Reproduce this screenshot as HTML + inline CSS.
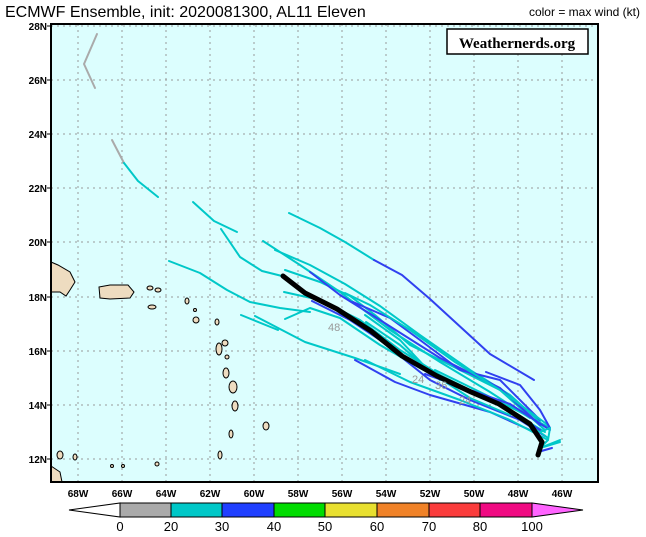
<!DOCTYPE html>
<html><head><meta charset="utf-8"><style>
body{margin:0;background:#fff;width:646px;height:532px;overflow:hidden;font-family:"Liberation Sans",sans-serif}
</style></head><body>
<svg width="646" height="532" xmlns="http://www.w3.org/2000/svg" font-family="Liberation Sans, sans-serif">
<text x="5" y="17" font-size="16" fill="#000">ECMWF Ensemble, init: 2020081300, AL11 Eleven</text>
<text x="640" y="16" font-size="12" fill="#000" text-anchor="end">color = max wind (kt)</text>
<rect x="51" y="24" width="547" height="458" fill="#dcfefe"/>
<g stroke="#999" stroke-width="1" stroke-dasharray="2,4">
<line x1="78" y1="24" x2="78" y2="482"/><line x1="122" y1="24" x2="122" y2="482"/><line x1="166" y1="24" x2="166" y2="482"/><line x1="210" y1="24" x2="210" y2="482"/><line x1="254" y1="24" x2="254" y2="482"/><line x1="298" y1="24" x2="298" y2="482"/><line x1="342" y1="24" x2="342" y2="482"/><line x1="386" y1="24" x2="386" y2="482"/><line x1="430" y1="24" x2="430" y2="482"/><line x1="474" y1="24" x2="474" y2="482"/><line x1="518" y1="24" x2="518" y2="482"/><line x1="562" y1="24" x2="562" y2="482"/>
<line x1="51" y1="26" x2="598" y2="26"/><line x1="51" y1="80" x2="598" y2="80"/><line x1="51" y1="134" x2="598" y2="134"/><line x1="51" y1="188" x2="598" y2="188"/><line x1="51" y1="242" x2="598" y2="242"/><line x1="51" y1="297" x2="598" y2="297"/><line x1="51" y1="351" x2="598" y2="351"/><line x1="51" y1="405" x2="598" y2="405"/><line x1="51" y1="459" x2="598" y2="459"/>
</g>
<g fill="#eedcc0" stroke="#000" stroke-width="1">
<path d="M51,262 L58,265 L70,272 L75,282 L70,290 L66,296 L60,292 L51,292 Z"/>
<path d="M99,287 L110,285 L128,285 L134,292 L130,298 L110,299 L100,298 Z"/>
<path d="M51,466 L60,472 L62,482 L51,482 Z"/>
<ellipse cx="219" cy="349" rx="3" ry="6"/><ellipse cx="225" cy="343" rx="3" ry="3"/><ellipse cx="227" cy="357" rx="2" ry="2"/>
<ellipse cx="226" cy="373" rx="3" ry="5"/><ellipse cx="233" cy="387" rx="4" ry="6"/><ellipse cx="235" cy="406" rx="3" ry="5"/>
<ellipse cx="231" cy="434" rx="2" ry="4"/><ellipse cx="266" cy="426" rx="3" ry="4"/><ellipse cx="217" cy="322" rx="2" ry="3"/>
<ellipse cx="196" cy="320" rx="3" ry="3"/><ellipse cx="150" cy="288" rx="3" ry="2"/><ellipse cx="158" cy="290" rx="3" ry="2"/>
<ellipse cx="60" cy="455" rx="3" ry="4"/><ellipse cx="75" cy="457" rx="2" ry="3"/><ellipse cx="152" cy="307" rx="4" ry="2"/>
<ellipse cx="112" cy="466" rx="1.5" ry="1.5"/><ellipse cx="123" cy="466" rx="1.5" ry="1.5"/><ellipse cx="157" cy="464" rx="2" ry="2"/>
<ellipse cx="220" cy="455" rx="2" ry="4"/><ellipse cx="187" cy="301" rx="2" ry="3"/><ellipse cx="195" cy="310" rx="1.5" ry="1.5"/>
</g>
<g fill="none" stroke-width="2" stroke-linecap="round" stroke-linejoin="round">
<polyline stroke="#aaa" points="97,34 84,64 95,88"/>
<polyline stroke="#aaa" points="112,140 124,163"/>
<polyline stroke="#00c8c8" points="124,163 138,181 158,197"/>
<polyline stroke="#00c8c8" points="193,202 214,221 237,232"/>
<polyline stroke="#00c8c8" points="221,229 240,257 262,271 282,276"/>
<polyline stroke="#00c8c8" points="169,261 200,273 227,290 250,302 280,308 310,312"/>
<polyline stroke="#00c8c8" points="241,315 278,330"/>
<polyline stroke="#00c8c8" points="255,316 305,342 355,358 400,374"/>
<polyline stroke="#00c8c8" points="289,213 320,228 345,242 374,260"/>
<polyline stroke="#3040f0" points="374,260 402,275 430,299 490,354 534,380"/>
<polyline stroke="#00c8c8" points="263,241 300,265 340,292 390,330 440,362 490,392 530,418"/>
<polyline stroke="#00c8c8" points="275,250 310,265 345,284 380,306 420,335 470,370 510,395 540,422"/>
<polyline stroke="#00c8c8" points="285,270 320,282 350,296 375,315 410,345 450,365 500,390 545,430"/>
<polyline stroke="#3040f0" points="310,272 340,295 380,320 440,358 500,388 540,425"/>
<polyline stroke="#00c8c8" points="284,292 320,300 360,320 400,350 440,375 500,405 545,432"/>
<polyline stroke="#3040f0" points="312,301 350,320 380,340 430,380 470,400 520,420 545,436"/>
<polyline stroke="#00c8c8" points="285,319 310,308 340,318 380,345 420,368 460,388 510,410 548,438"/>
<polyline stroke="#3040f0" points="353,302 390,318 420,340 460,370 500,380 540,420"/>
<polyline stroke="#00c8c8" points="345,293 370,305 410,330 455,362 500,390 548,425"/>
<polyline stroke="#00c8c8" points="365,315 400,340 430,372 470,398 510,415"/>
<polyline stroke="#00c8c8" points="366,322 400,345 440,380"/>
<polyline stroke="#3040f0" points="405,357 450,384 500,405 540,430"/>
<polyline stroke="#3040f0" points="355,360 395,382 430,395 490,412 530,430"/>
<polyline stroke="#00c8c8" points="365,360 410,382 460,400 510,420 548,440"/>
<polyline stroke="#00c8c8" points="435,370 480,392 520,412 550,428"/>
<polyline stroke="#3040f0" points="425,374 470,390 510,404 550,430"/>
<polyline stroke="#3040f0" points="486,372 520,385 540,410 550,428"/>
<polyline stroke="#00c8c8" points="540,432 550,428 548,440 540,448 560,440"/>
<polyline stroke="#00c8c8" points="540,448 560,442"/>
<polyline stroke="#3040f0" points="538,452 552,448"/>
</g>
<polyline fill="none" stroke="#000" stroke-width="5" stroke-linecap="round" stroke-linejoin="round" points="283,276 305,293 337,309 371,331 402,356 437,376 471,392 499,404 530,424 542,442 538,455"/>
<g font-size="11" fill="#999"><text x="328" y="331">48</text><text x="412" y="383">24</text><text x="435" y="389">36</text><text x="459" y="404">24</text></g>
<rect x="51" y="24" width="547" height="458" fill="none" stroke="#000" stroke-width="2"/>
<rect x="447" y="29" width="141" height="25" fill="#fff" stroke="#000" stroke-width="1.5"/>
<text x="517" y="48" font-size="15" font-weight="bold" font-family="Liberation Serif, serif" text-anchor="middle">Weathernerds.org</text>
<g font-size="10" font-weight="bold" text-anchor="end">
<text x="47" y="30">28N</text><text x="47" y="84">26N</text><text x="47" y="138">24N</text><text x="47" y="192">22N</text><text x="47" y="246">20N</text><text x="47" y="301">18N</text><text x="47" y="355">16N</text><text x="47" y="409">14N</text><text x="47" y="463">12N</text>
</g>
<g stroke="#000" stroke-width="1">
<line x1="47" y1="26" x2="51" y2="26"/><line x1="47" y1="80" x2="51" y2="80"/><line x1="47" y1="134" x2="51" y2="134"/><line x1="47" y1="188" x2="51" y2="188"/><line x1="47" y1="242" x2="51" y2="242"/><line x1="47" y1="297" x2="51" y2="297"/><line x1="47" y1="351" x2="51" y2="351"/><line x1="47" y1="405" x2="51" y2="405"/><line x1="47" y1="459" x2="51" y2="459"/>
</g>
<g font-size="10" font-weight="bold" text-anchor="middle">
<text x="78" y="497">68W</text><text x="122" y="497">66W</text><text x="166" y="497">64W</text><text x="210" y="497">62W</text><text x="254" y="497">60W</text><text x="298" y="497">58W</text><text x="342" y="497">56W</text><text x="386" y="497">54W</text><text x="430" y="497">52W</text><text x="474" y="497">50W</text><text x="518" y="497">48W</text><text x="562" y="497">46W</text>
</g>
<g stroke="#000" stroke-width="1">
<polygon points="69,510 120,503 120,517" fill="#fff"/>
<rect x="120" y="503" width="51" height="14" fill="#aaa"/>
<rect x="171" y="503" width="51" height="14" fill="#00c8c8"/>
<rect x="222" y="503" width="52" height="14" fill="#2040ff"/>
<rect x="274" y="503" width="51" height="14" fill="#00dc00"/>
<rect x="325" y="503" width="52" height="14" fill="#e8e030"/>
<rect x="377" y="503" width="52" height="14" fill="#f08228"/>
<rect x="429" y="503" width="51" height="14" fill="#fa3c3c"/>
<rect x="480" y="503" width="52" height="14" fill="#f00a82"/>
<polygon points="532,503 532,517 583,510" fill="#ff64ff"/>
</g>
<g font-size="13" text-anchor="middle">
<text x="120" y="531">0</text><text x="171" y="531">20</text><text x="222" y="531">30</text><text x="274" y="531">40</text><text x="325" y="531">50</text><text x="377" y="531">60</text><text x="429" y="531">70</text><text x="480" y="531">80</text><text x="532" y="531">100</text>
</g>
</svg>
</body></html>
